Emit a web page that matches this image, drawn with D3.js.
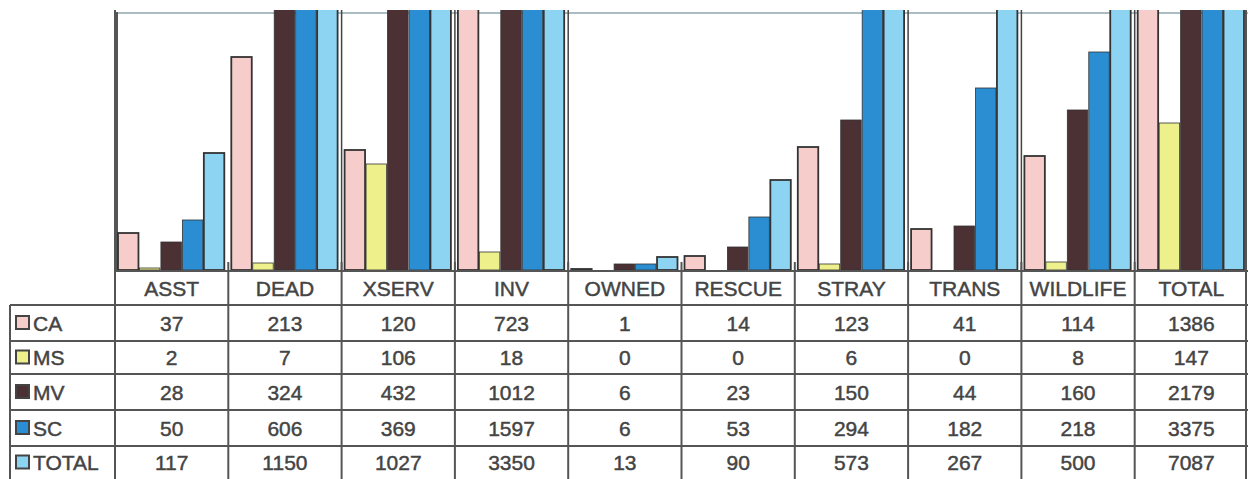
<!DOCTYPE html>
<html>
<head>
    <meta charset="UTF-8">
    <title>Calls by type</title>
    <script src="https://d3js.org/d3.v7.min.js"></script>
    <style>
        body { margin: 0; background: #fff; font-family: Arial, "Liberation Sans", sans-serif; }
        .cell text { font-size: 21px; fill: #444; stroke: #444; stroke-width: 0.45px; }
    </style>
</head>
<body>
<div id="chart"></div>
<script>
// categories and series
const categories = ["ASST", "DEAD", "XSERV", "INV", "OWNED", "RESCUE", "STRAY", "TRANS", "WILDLIFE", "TOTAL"];
const seriesNames = ["CA", "MS", "MV", "SC", "TOTAL"];
const CA    = [37, 213, 120, 723, 1, 14, 123, 41, 114, 1386];
const MS    = [2, 7, 106, 18, 0, 0, 6, 0, 8, 147];
const MV    = [28, 324, 432, 1012, 6, 23, 150, 44, 160, 2179];
const SC    = [50, 606, 369, 1597, 6, 53, 294, 182, 218, 3375];
const TOTAL = [117, 1150, 1027, 3350, 13, 90, 573, 267, 500, 7087];
const seriesValues = [CA, MS, MV, SC, TOTAL];
// the printed chart's axis stops around 260, taller bars run off the top
const yMax = 260;

const colors = ["#f6cdcb", "#eef08c", "#4b3134", "#2b8ed2", "#8dd4f3"];
// group borders that run the full height in the print
const fullDividers = ["XSERV", "INV", "OWNED", "TRANS", "WILDLIFE", "TOTAL"];

const W = 1251, H = 479;
const plotLeft = 115, plotRight = 1248, plotTop = 10, plotBottom = 270;
const rowLines = [271, 305, 341, 374, 410, 446, 479];
const labelLeft = 10;

const svg = d3.select("#chart").append("svg")
    .attr("width", W).attr("height", H);

const x0 = d3.scaleBand().domain(categories).range([plotLeft, plotRight]);
const x1 = d3.scaleBand().domain(seriesNames).range([3, x0.bandwidth() - 3]);
const y = d3.scaleLinear().domain([0, yMax]).range([plotBottom, plotTop]);

svg.append("clipPath").attr("id", "plotClip")
    .append("rect")
    .attr("x", plotLeft).attr("y", plotTop)
    .attr("width", plotRight - plotLeft).attr("height", plotBottom - plotTop);

// plot frame
svg.append("line")
    .attr("x1", plotLeft + 2).attr("x2", plotRight)
    .attr("y1", 13).attr("y2", 13)
    .attr("stroke", "#aabdc1").attr("stroke-width", 2);
svg.append("line")
    .attr("x1", plotLeft + 2).attr("x2", plotLeft + 2)
    .attr("y1", 12).attr("y2", plotBottom)
    .attr("stroke", "#555").attr("stroke-width", 2);
svg.append("line")
    .attr("x1", plotRight - 2).attr("x2", plotRight - 2)
    .attr("y1", plotTop).attr("y2", plotBottom)
    .attr("stroke", "#444").attr("stroke-width", 1.5);

svg.selectAll(".divider")
    .data(fullDividers)
    .join("line")
    .attr("class", "divider")
    .attr("x1", d => x0(d)).attr("x2", d => x0(d))
    .attr("y1", plotTop).attr("y2", plotBottom)
    .attr("stroke", "#444").attr("stroke-width", 1.5);

// bars
const barData = [];
categories.forEach((c, i) => {
    seriesNames.forEach((s, j) => {
        barData.push({ cat: c, series: s, idx: j, value: seriesValues[j][i] });
    });
});

svg.append("g")
    .attr("clip-path", "url(#plotClip)")
    .selectAll("rect")
    .data(barData)
    .join("rect")
    .attr("x", d => x0(d.cat) + x1(d.series))
    .attr("width", x1.bandwidth() - 1)
    .attr("y", d => y(d.value))
    .attr("height", d => plotBottom - y(d.value))
    .attr("fill", d => colors[d.idx])
    .attr("stroke", "#333")
    .attr("stroke-width", d => (d.idx === 0 || d.idx === 4) ? 1.8 : 0.8);

// data table under the chart
const table = svg.append("g").attr("class", "cell");
const lineColor = "#555";

// horizontal rules
table.append("line")
    .attr("x1", plotLeft).attr("x2", plotRight)
    .attr("y1", rowLines[0]).attr("y2", rowLines[0])
    .attr("stroke", lineColor).attr("stroke-width", 2);
rowLines.slice(1, -1).forEach(ry => {
    table.append("line")
        .attr("x1", labelLeft).attr("x2", plotRight)
        .attr("y1", ry).attr("y2", ry)
        .attr("stroke", lineColor).attr("stroke-width", 2);
});

// vertical rules
const colEdges = categories.map(c => x0(c)).concat([plotRight - 2]);
colEdges.forEach((cx, i) => {
    table.append("line")
        .attr("x1", cx).attr("x2", cx)
        .attr("y1", i === 0 || i === colEdges.length - 1 ? plotTop : 262)
        .attr("y2", H)
        .attr("stroke", lineColor).attr("stroke-width", 2);
});
table.append("line")
    .attr("x1", labelLeft).attr("x2", labelLeft)
    .attr("y1", rowLines[1]).attr("y2", H)
    .attr("stroke", lineColor).attr("stroke-width", 2);

// header
table.selectAll(".head")
    .data(categories)
    .join("text")
    .attr("class", "head")
    .attr("x", d => x0(d) + x0.bandwidth() / 2)
    .attr("y", (rowLines[0] + rowLines[1]) / 2)
    .attr("dy", "0.36em")
    .attr("text-anchor", "middle")
    .text(d => d);

// rows
seriesNames.forEach((s, j) => {
    const top = rowLines[j + 1], bottom = rowLines[j + 2];
    const mid = (top + bottom) / 2;

    table.append("rect")
        .attr("x", 16).attr("y", mid - 7)
        .attr("width", 13).attr("height", 13)
        .attr("fill", colors[j])
        .attr("stroke", "#444").attr("stroke-width", 2);

    table.append("text")
        .attr("x", 33).attr("y", mid)
        .attr("dy", "0.36em")
        .text(s);

    table.selectAll(".v" + j)
        .data(seriesValues[j])
        .join("text")
        .attr("x", (d, i) => x0(categories[i]) + x0.bandwidth() / 2)
        .attr("y", mid)
        .attr("dy", "0.36em")
        .attr("text-anchor", "middle")
        .text(d => d);
});
</script>
</body>
</html>
